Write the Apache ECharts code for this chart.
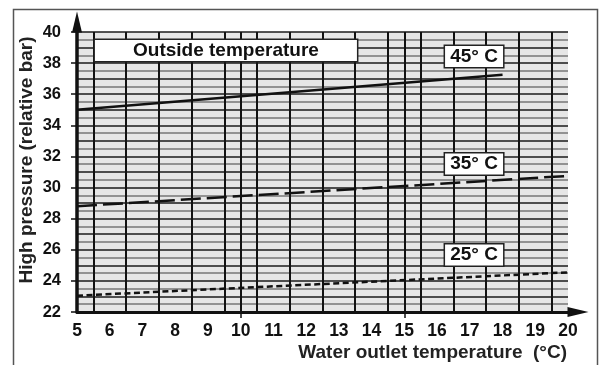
<!DOCTYPE html>
<html>
<head>
<meta charset="utf-8">
<script src="https://cdn.jsdelivr.net/npm/echarts@6/dist/echarts.min.js"></script>
<style>
html,body{margin:0;padding:0;background:#fff;}
#c{width:604px;height:365px;}
</style>
</head>
<body>
<div id="c"></div>
<script>
// ---- data ----
const xTicks = [5, 6, 7, 8, 9, 10, 11, 12, 13, 14, 15, 16, 17, 18, 19, 20];
const yTicks = [22, 24, 26, 28, 30, 32, 34, 36, 38, 40];
const seriesNames = ['45° C', '35° C', '25° C'];
const waterTemp45 = [5, 18];
const pressure45 = [35.0, 37.25];
const waterTemp35 = [5, 20];
const pressure35 = [28.8, 30.75];
const waterTemp25 = [5, 20];
const pressure25 = [23.05, 24.55];
const legendTitle = 'Outside temperature';
const xName = 'Water outlet temperature  (°C)';
const yName = 'High pressure (relative bar)';

const FONT = '"Liberation Sans", Arial, Helvetica, sans-serif';
const zip = (xs, ys) => xs.map((x, i) => [x, ys[i]]);

const boxLabel = (w, fs) => ({
  show: true, position: 'inside', color: '#111', fontFamily: FONT, fontWeight: 'bold',
  fontSize: fs, backgroundColor: '#fff', borderColor: '#222', borderWidth: 1.5,
  width: w, height: 21, lineHeight: 21, align: 'center', verticalAlign: 'middle', padding: [0, 0, 0, 0],
  formatter: '{b}'
});

const chart = echarts.init(document.getElementById('c'), null, {renderer: 'canvas'});
const option = {
  animation: false,
  backgroundColor: '#fff',
  graphic: [{
    type: 'rect', left: 11, top: 7, z: -10,
    shape: {width: 584, height: 400},
    style: {fill: 'none', stroke: '#555', lineWidth: 1.5}
  }],
  grid: {left: 77, top: 32, width: 491, height: 280, show: true, backgroundColor: '#e6e6e6', borderWidth: 0},
  xAxis: {
    type: 'value', min: xTicks[0], max: xTicks[xTicks.length - 1], interval: 1,
    name: xName, nameLocation: 'end', nameGap: -1, nameMoveOverlap: false,
    nameTextStyle: {fontFamily: FONT, fontWeight: 'bold', fontSize: 19, color: '#222', align: 'right', verticalAlign: 'top', padding: [31, 0, 0, 0]},
    axisLine: {show: true, onZero: false, symbol: ['none', 'triangle'], symbolSize: [10, 21], symbolOffset: 10, lineStyle: {color: '#111', width: 3}},
    axisTick: {show: true, customValues: [10, 15], length: 6, lineStyle: {color: '#111', width: 1.5}},
    axisLabel: {fontFamily: FONT, fontWeight: 'bold', fontSize: 17.5, color: '#111', margin: 10},
    splitLine: {show: true, lineStyle: {color: '#111', width: 2}},
    minorTick: {show: false, splitNumber: 2},
    minorSplitLine: {show: true, lineStyle: {color: '#111', width: 2}}
  },
  yAxis: [{
    type: 'value', min: yTicks[0], max: yTicks[yTicks.length - 1], interval: 2,
    name: yName, nameLocation: 'middle', nameGap: 41, nameMoveOverlap: false,
    nameTextStyle: {fontFamily: FONT, fontWeight: 'bold', fontSize: 19, color: '#222', padding: [0, 0, 0, 24]},
    axisLine: {show: true, onZero: false, symbol: ['none', 'triangle'], symbolSize: [10, 21], symbolOffset: 10, lineStyle: {color: '#111', width: 3.5}},
    axisTick: {show: true, length: 6, lineStyle: {color: '#111', width: 1.5}},
    axisLabel: {fontFamily: FONT, fontWeight: 'bold', fontSize: 16.5, color: '#111', margin: 16},
    splitLine: {show: false}, z: 5
  }, {
    type: 'value', min: yTicks[0], max: yTicks[yTicks.length - 1], interval: 1,
    axisLine: {show: false}, axisTick: {show: false}, axisLabel: {show: false},
    splitLine: {show: true, lineStyle: {color: '#1a1a1a', width: 1.5}},
    minorTick: {show: false, splitNumber: 2},
    minorSplitLine: {show: true, lineStyle: {color: '#777', width: 1.5}}
  }],
  series: [{
    name: seriesNames[0], type: 'line', data: zip(waterTemp45, pressure45), yAxisIndex: 0,
    symbol: 'none', lineStyle: {color: '#111', width: 2.5, type: 'solid'}, z: 4,
    markPoint: {
      symbol: 'rect', symbolSize: 1, itemStyle: {color: 'rgba(0,0,0,0)'},
      data: [
        {name: seriesNames[0], coord: [17.13, 38.43], label: boxLabel(58, 19)},
        {name: legendTitle, coord: [9.55, 38.81], label: boxLabel(262, 19)}
      ]
    }
  }, {
    name: seriesNames[1], type: 'line', data: zip(waterTemp35, pressure35), yAxisIndex: 0,
    symbol: 'none', lineStyle: {color: '#111', width: 2.5, type: [20, 6]}, z: 4,
    markPoint: {
      symbol: 'rect', symbolSize: 1, itemStyle: {color: 'rgba(0,0,0,0)'},
      data: [{name: seriesNames[1], coord: [17.13, 31.52], label: boxLabel(58, 19)}]
    }
  }, {
    name: seriesNames[2], type: 'line', data: zip(waterTemp25, pressure25), yAxisIndex: 0,
    symbol: 'none', lineStyle: {color: '#111', width: 2.5, type: [6, 3.5]}, z: 4,
    markPoint: {
      symbol: 'rect', symbolSize: 1, itemStyle: {color: 'rgba(0,0,0,0)'},
      data: [{name: seriesNames[2], coord: [17.13, 25.67], label: boxLabel(58, 19)}]
    }
  }]
};
chart.setOption(option);
</script>
</body>
</html>
